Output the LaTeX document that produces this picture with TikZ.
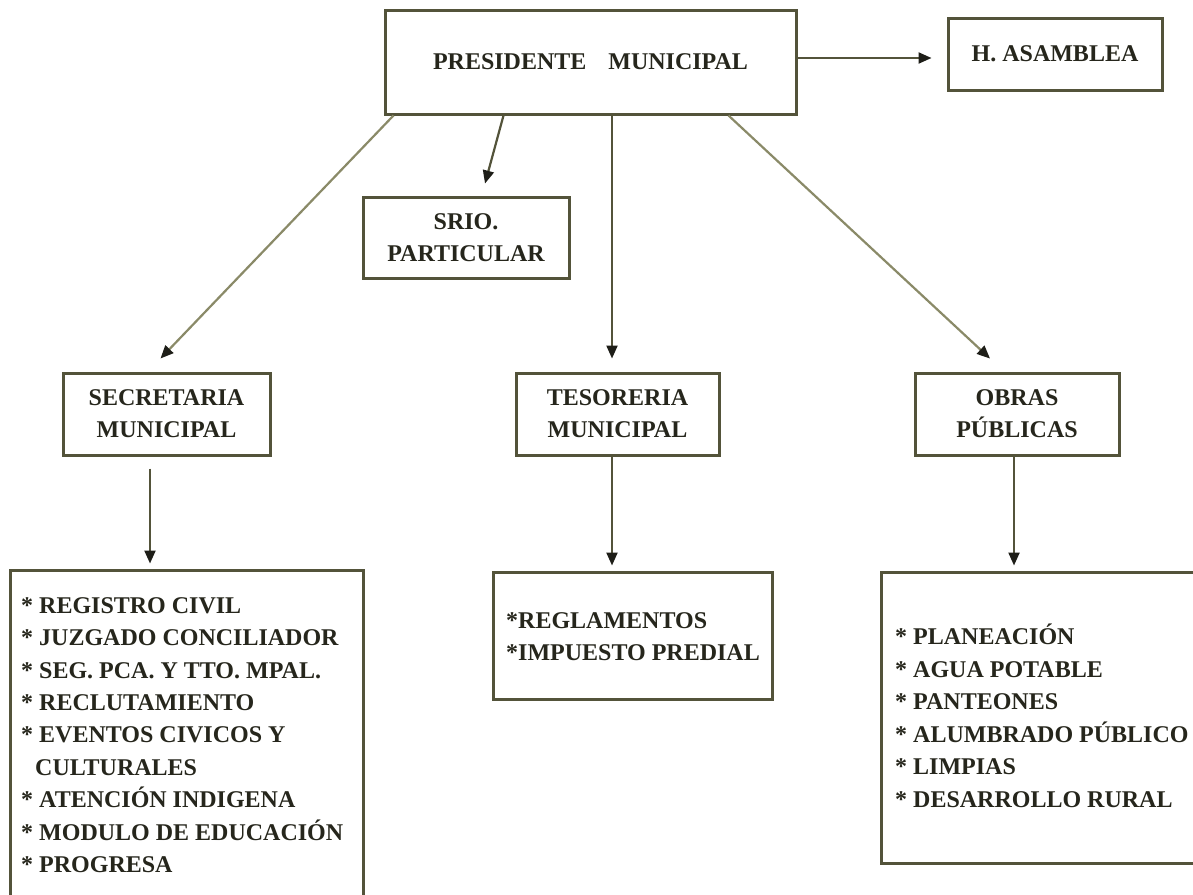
\documentclass[tikz,border=0pt]{standalone}
\usepackage{fontspec}
\setmainfont{Liberation Serif}
\usetikzlibrary{arrows.meta}
\definecolor{bordercol}{HTML}{53533A}
\definecolor{textcol}{HTML}{26261C}
\definecolor{diagcol}{HTML}{8A8A68}
\definecolor{tipcol}{HTML}{1E1E18}
\tikzset{
  box/.style={draw=bordercol, line width=3pt, fill=white, align=center, inner sep=0pt,
    text=textcol, font=\bfseries\fontsize{24}{32}\selectfont},
  listtext/.style={align=left, inner sep=0pt, text=textcol, anchor=base west,
    font=\bfseries\fontsize{24}{32.4}\selectfont},
  conn/.style={line width=2.2pt, draw=bordercol, -{Triangle[length=13pt,width=11pt,color=tipcol]}},
  diag/.style={conn, draw=diagcol},
}
\begin{document}
\begin{tikzpicture}[x=1pt,y=-1pt]
\useasboundingbox (0,0) rectangle (1193,894);
\clip (0,0) rectangle (1193,894);
\fill[white] (0,0) rectangle (1193,894);

\node[box, minimum width=411pt, minimum height=104pt] (pres) at (590.5,62) {PRESIDENTE\hspace{22pt}MUNICIPAL};
\node[box, minimum width=214pt, minimum height=72pt] (asam) at (1055,54) {H. ASAMBLEA};
\node[box, minimum width=206pt, minimum height=81pt] (srio) at (466,237.5) {SRIO.\\PARTICULAR};
\node[box, minimum width=207pt, minimum height=82pt] (sec) at (166.5,414) {SECRETARIA\\MUNICIPAL};
\node[box, minimum width=203pt, minimum height=82pt] (tes) at (617.5,414) {TESORERIA\\MUNICIPAL};
\node[box, minimum width=204pt, minimum height=82pt] (obras) at (1017,414) {OBRAS\\PÚBLICAS};

\node[box, minimum width=353pt, minimum height=340pt] (lbox) at (186.5,740) {};
\node[box, minimum width=279pt, minimum height=127pt] (mbox) at (632.5,635.5) {};
\node[box, minimum width=329pt, minimum height=291pt] (rbox) at (1045.5,717.5) {};

% base anchor = baseline of the last line
\node[listtext] (ltext) at (21,872.5) {* REGISTRO CIVIL\\* JUZGADO CONCILIADOR\\* SEG. PCA. Y TTO. MPAL.\\* RECLUTAMIENTO\\* EVENTOS CIVICOS Y\\\hspace*{14pt}CULTURALES\\* ATENCIÓN INDIGENA\\* MODULO DE EDUCACIÓN\\* PROGRESA};
\node[listtext, font=\bfseries\fontsize{24}{31.8}\selectfont] (mtext) at (506,660) {*REGLAMENTOS\\*IMPUESTO PREDIAL};
\node[listtext, font=\bfseries\fontsize{24}{32.5}\selectfont] (rtext) at (895,807) {* PLANEACIÓN\\* AGUA POTABLE\\* PANTEONES\\* ALUMBRADO PÚBLICO\\* LIMPIAS\\* DESARROLLO RURAL};

\draw[conn] ([yshift=4pt]pres.east) -- ([xshift=-15pt,yshift=-4pt]asam.west);
\draw[diag] ([xshift=10pt]pres.south west) -- ([xshift=-6pt,yshift=13pt]sec.north);
\draw[conn] ([xshift=120pt]pres.south west) -- ([xshift=19pt,yshift=12pt]srio.north);
\draw[conn] ([xshift=21.5pt]pres.south) -- ([xshift=-5.5pt,yshift=13pt]tes.north);
\draw[diag] ([xshift=345pt]pres.south west) -- ([xshift=-27pt,yshift=13pt]obras.north);

\draw[conn] ([xshift=-16.5pt,yshift=-12pt]sec.south) -- ([xshift=-36.5pt,yshift=5pt]lbox.north);
\draw[conn] ([xshift=-5.5pt]tes.south) -- ([xshift=-20.5pt,yshift=5pt]mbox.north);
\draw[conn] ([xshift=-3pt]obras.south) -- ([xshift=-31.5pt,yshift=5pt]rbox.north);
\end{tikzpicture}
\end{document}
